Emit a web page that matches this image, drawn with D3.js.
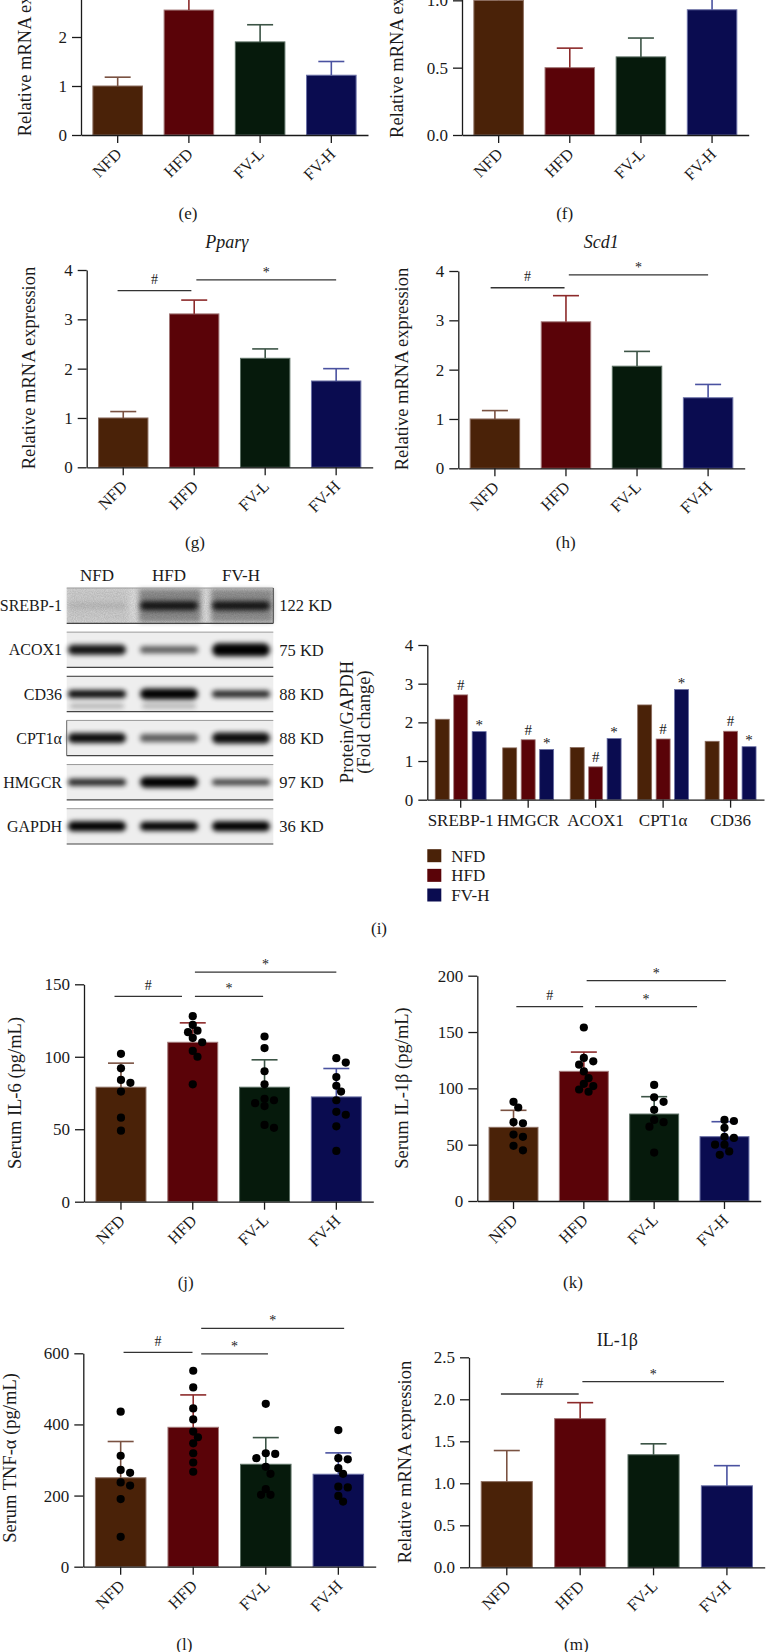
<!DOCTYPE html>
<html><head><meta charset="utf-8">
<script src="https://cdn.jsdelivr.net/npm/d3@7"></script>
<style>
body{margin:0;background:#fff}
svg{display:block}
text{font-family:"Liberation Serif","Times New Roman",Times,serif;fill:#1a1a1a}
</style>
</head><body>
<svg id="c" width="766" height="1652"></svg>
<script>
// ---------- shared categories / palette ----------
const groups = ["NFD", "HFD", "FV-L", "FV-H"];
const groupColors = ["#4a2208", "#5a0308", "#061a0c", "#0a0c50"];
const strokeColors = ["#8c6e60", "#a27878", "#5c7064", "#6a70a6"];
const errColors = ["#7a5242", "#8c2a2a", "#3c5446", "#4a52a0"];

// ---------- (e) ----------
const eMeans = [1.0, 2.55, 1.9, 1.22];
const eErr = [1.18, 2.95, 2.25, 1.5];
const eTicks = [0, 1, 2, 3, 4];
// ---------- (f) ----------
const fMeans = [1.0, 0.5, 0.58, 0.93];
const fErr = [1.08, 0.645, 0.72, 1.06];
const fTicks = [0, 0.5, 1.0, 1.5];
// ---------- (g) Pparγ ----------
const gMeans = [1.0, 3.11, 2.21, 1.75];
const gErr = [1.13, 3.39, 2.40, 2.0];
const gTicks = [0, 1, 2, 3, 4];
const gSig = [[-0.08, 0.96, 3.58, "#"], [1.03, 3.0, 3.80, "*"]];
// ---------- (h) Scd1 ----------
const hMeans = [1.0, 2.97, 2.07, 1.43];
const hErr = [1.17, 3.50, 2.37, 1.70];
const hTicks = [0, 1, 2, 3, 4];
const hSig = [[-0.06, 0.98, 3.66, "#"], [1.04, 3.0, 3.92, "*"]];
// ---------- (i) western blot ----------
const blotProteins = ["SREBP-1", "ACOX1", "CD36", "CPT1α", "HMGCR", "GAPDH"];
const blotKD = ["122 KD", "75 KD", "88 KD", "88 KD", "97 KD", "36 KD"];
const blotLanes = ["NFD", "HFD", "FV-H"];
const blotIntensity = [[0.1, 0.85, 0.85], [0.92, 0.62, 1.0], [0.95, 1.0, 0.85], [0.95, 0.62, 0.95], [0.85, 1.0, 0.75], [1.0, 1.0, 1.0]];
const blotThickness = [[5, 9, 9], [10, 7, 13], [8, 11, 7], [10, 8, 11], [7, 11, 6], [10, 9, 10]];
const blotLowerBand = [[0, 0, 0], [0, 0, 0], [0.3, 0.3, 0], [0, 0, 0], [0, 0, 0], [0, 0, 0]];
const srebpBackground = [0.06, 0.36, 0.34];
// ---------- (i) quantification ----------
const protCats = ["SREBP-1", "HMGCR", "ACOX1", "CPT1α", "CD36"];
const protSeries = ["NFD", "HFD", "FV-H"];
const protNFD = [2.08, 1.34, 1.35, 2.45, 1.51];
const protHFD = [2.71, 1.55, 0.85, 1.57, 1.77];
const protFVH = [1.76, 1.30, 1.58, 2.85, 1.37];
const protHFDMark = ["#", "#", "#", "#", "#"];
const protFVHMark = ["*", "*", "*", "*", "*"];
const protTicks = [0, 1, 2, 3, 4];
const protColors = ["#4a2208", "#5a0308", "#0a0c50"];
// ---------- (j) Serum IL-6 ----------
const jMeans = [79, 110, 79, 72.3];
const jErr = [95.6, 123.4, 97.9, 91.9];
const jPoints = [
  [102, 92, 84, 82, 76, 58, 49],
  [128, 122, 118, 117, 113, 110, 104, 100, 81],
  [114, 106, 90, 81, 71, 70, 68, 66, 53, 51],
  [99, 96, 86, 80, 76, 70, 62, 60, 52, 35]];
const jTicks = [0, 50, 100, 150];
const jSig = [[-0.09, 0.85, 141.6, "#"], [1.03, 1.98, 141.6, "*"], [1.03, 3.0, 158.4, "*"]];
// ---------- (k) Serum IL-1β ----------
const kMeans = [65.4, 115.1, 77.2, 57.1];
const kErr = [80.5, 132.2, 92.6, 70.4];
const kPoints = [
  [88, 83, 70, 69, 59, 57, 49, 45],
  [154, 127, 124, 121, 115, 109, 104, 102, 99, 97],
  [103, 92, 88, 81, 72, 70, 66, 43],
  [72, 71, 65, 57, 56, 50, 50, 44, 41]];
const kTicks = [0, 50, 100, 150, 200];
const kSig = [[0.04, 0.99, 172.6, "#"], [1.16, 2.61, 172.6, "*"], [1.04, 3.02, 195.6, "*"]];
// ---------- (l) Serum TNF-α ----------
const lMeans = [250, 392, 288, 260];
const lErr = [352, 483, 363, 320];
const lPoints = [
  [436, 312, 272, 264, 237, 228, 190, 84],
  [551, 504, 445, 414, 380, 364, 347, 319, 293, 267],
  [458, 319, 317, 305, 281, 261, 218, 202, 202],
  [384, 305, 302, 277, 261, 225, 223, 199, 183]];
const lTicks = [0, 200, 400, 600];
const lSig = [[0.04, 0.99, 602.8, "#"], [1.11, 2.03, 598.3, "*"], [1.11, 3.08, 670, "*"]];
// ---------- (m) IL-1β mRNA ----------
const mMeans = [1.02, 1.77, 1.34, 0.97];
const mErr = [1.39, 1.96, 1.47, 1.21];
const mTicks = [0, 0.5, 1.0, 1.5, 2.0, 2.5];
const mSig = [[-0.08, 0.98, 2.063, "#"], [1.03, 2.96, 2.21, "*"]];

const svg = d3.select("#c");
const defs = svg.append("defs");
defs.append("filter").attr("id", "blur").attr("x", "-30%").attr("y", "-100%").attr("width", "160%").attr("height", "300%")
  .append("feGaussianBlur").attr("stdDeviation", 2.4);
defs.append("filter").attr("id", "blur2").attr("x", "-20%").attr("y", "-20%").attr("width", "140%").attr("height", "140%")
  .append("feGaussianBlur").attr("stdDeviation", 2.5);
const noise = defs.append("filter").attr("id", "noise").attr("x", 0).attr("y", 0).attr("width", "100%").attr("height", "100%");
noise.append("feTurbulence").attr("type", "fractalNoise").attr("baseFrequency", 0.9).attr("numOctaves", 2).attr("seed", 3);
noise.append("feColorMatrix").attr("type", "matrix").attr("values", "0 0 0 0 0  0 0 0 0 0  0 0 0 0 0  0 0 0 0.35 0");
noise.append("feComposite").attr("in2", "SourceGraphic").attr("operator", "in");

const FONT = "Liberation Serif";
const TICK = 17, XTICK = 16.5, YLAB = 18.5;

function txt(g, x, y, s, o = {}) {
  return g.append("text").attr("x", x).attr("y", y).attr("dy", o.dy ?? "0.35em")
    .attr("text-anchor", o.anchor || "middle").attr("font-size", o.size || 16)
    .attr("font-style", o.italic ? "italic" : null).text(s);
}
function vlabel(g, x, y, s, size = YLAB) {
  g.append("text").attr("transform", `translate(${x},${y}) rotate(-90)`).attr("dy", "0.35em")
    .attr("text-anchor", "middle").attr("font-size", size).text(s);
}

function swarm(vals, cx, y, r) {
  const placed = [];
  const order = vals.map(v => ({ v, py: y(v) })).sort((a, b) => a.py - b.py);
  const offs = [0];
  for (let j = 1; j < 8; j++) offs.push(j * r * 1.15, -j * r * 1.15);
  order.forEach(p => {
    let xx = cx;
    for (const o of offs) {
      xx = cx + o;
      if (placed.every(q => Math.hypot(q.x - xx, q.py - p.py) >= r * 1.75)) break;
    }
    p.x = xx; placed.push(p);
  });
  return placed;
}

function barPanel(o) {
  const g = svg.append("g");
  const x = d3.scaleBand().domain(groups).range([o.ax, o.ae]).paddingInner(0.29).paddingOuter(0.16);
  const y = d3.scaleLinear().domain(o.domain).range([o.base, o.top]);
  const bw = x.bandwidth();
  const cx = i => x(groups[i]) + bw / 2;

  g.selectAll("rect.bar").data(o.means).join("rect").attr("class", "bar")
    .attr("x", (d, i) => x(groups[i]) + 0.5).attr("y", d => y(d))
    .attr("width", bw - 1).attr("height", d => y(0) - y(d))
    .attr("fill", (d, i) => groupColors[i]).attr("stroke", (d, i) => strokeColors[i]).attr("stroke-width", 1);

  const eg = g.append("g");
  o.err.forEach((e, i) => {
    eg.append("line").attr("x1", cx(i)).attr("x2", cx(i)).attr("y1", y(o.means[i])).attr("y2", y(e))
      .attr("stroke", errColors[i]).attr("stroke-width", 1.6);
    eg.append("line").attr("x1", cx(i) - 13).attr("x2", cx(i) + 13).attr("y1", y(e)).attr("y2", y(e))
      .attr("stroke", errColors[i]).attr("stroke-width", 1.6);
  });

  if (o.points) {
    o.points.forEach((vals, i) => {
      const pts = swarm(vals, cx(i), y, 4.1);
      g.append("g").selectAll("circle").data(pts).join("circle")
        .attr("cx", d => d.x).attr("cy", d => d.py).attr("r", 4.1).attr("fill", "#000");
    });
  }

  const ya = d3.axisLeft(y).tickValues(o.ticks).tickSize(9).tickSizeOuter(0).tickPadding(5)
    .tickFormat(o.fmt || (d => d));
  const yg = g.append("g").attr("transform", `translate(${o.ax},0)`).call(ya)
    .attr("font-family", FONT).attr("font-size", TICK).attr("color", "#1a1a1a");
  yg.selectAll("line,path").attr("stroke-width", 1.3);

  const xa = d3.axisBottom(x).tickSize(8).tickSizeOuter(0);
  const xg = g.append("g").attr("transform", `translate(0,${o.base})`).call(xa)
    .attr("font-family", FONT).attr("font-size", XTICK).attr("color", "#1a1a1a");
  xg.selectAll("line,path").attr("stroke-width", 1.3);
  xg.selectAll(".tick text").attr("y", 0).attr("dy", 0)
    .attr("transform", "translate(5,20) rotate(-45)").attr("text-anchor", "end");

  if (o.sig) {
    const xc = d3.scaleLinear().domain([0, 3]).range([cx(0), cx(3)]);
    o.sig.forEach(s => {
      const x1 = xc(s[0]), x2 = xc(s[1]), yy = y(s[2]);
      g.append("line").attr("x1", x1).attr("x2", x2).attr("y1", yy).attr("y2", yy)
        .attr("stroke", "#333").attr("stroke-width", 1.3);
      g.append("text").attr("x", (x1 + x2) / 2).attr("y", yy - (s[3] === "#" ? 6.5 : 3))
        .attr("text-anchor", "middle").attr("font-size", 14).text(s[3]);
    });
  }
  if (o.ylabel) vlabel(g, o.ylx, o.yly, o.ylabel);
  if (o.title) txt(g, o.tx, o.ty, o.title, { size: 18, italic: o.italic });
  return g;
}

const fmt1 = d => d.toFixed(1);

barPanel({ ax: 81, ae: 368, base: 135, top: -61, domain: [0, 4], ticks: eTicks, means: eMeans, err: eErr,
  ylabel: "Relative mRNA expression", ylx: 25, yly: 35 });
barPanel({ ax: 462, ae: 748.7, base: 135, top: -67, domain: [0, 1.5], ticks: fTicks, fmt: fmt1, means: fMeans, err: fErr,
  ylabel: "Relative mRNA expression", ylx: 396.3, yly: 36.7 });
barPanel({ ax: 86.7, ae: 372.7, base: 467.3, top: 270, domain: [0, 4], ticks: gTicks, means: gMeans, err: gErr, sig: gSig,
  ylabel: "Relative mRNA expression", ylx: 28.3, yly: 368, title: "Pparγ", italic: true, tx: 226.7, ty: 241.7 });
barPanel({ ax: 458.3, ae: 744.7, base: 468.3, top: 271, domain: [0, 4], ticks: hTicks, means: hMeans, err: hErr, sig: hSig,
  ylabel: "Relative mRNA expression", ylx: 401.3, yly: 369, title: "Scd1", italic: true, tx: 601.3, ty: 241.7 });
barPanel({ ax: 84, ae: 373.3, base: 1201.7, top: 984.3, domain: [0, 150], ticks: jTicks, means: jMeans, err: jErr,
  points: jPoints, sig: jSig, ylabel: "Serum IL-6 (pg/mL)", ylx: 14.7, yly: 1093 });
barPanel({ ax: 477.3, ae: 760.7, base: 1201, top: 975.7, domain: [0, 200], ticks: kTicks, means: kMeans, err: kErr,
  points: kPoints, sig: kSig, ylabel: "Serum IL-1β (pg/mL)", ylx: 401.3, yly: 1088 });
barPanel({ ax: 83.3, ae: 375.7, base: 1566.7, top: 1353.3, domain: [0, 600], ticks: lTicks, means: lMeans, err: lErr,
  points: lPoints, sig: lSig, ylabel: "Serum TNF-α (pg/mL)", ylx: 9.5, yly: 1458 });
barPanel({ ax: 469, ae: 764.7, base: 1567.3, top: 1357.3, domain: [0, 2.5], ticks: mTicks, fmt: fmt1, means: mMeans, err: mErr,
  sig: mSig, ylabel: "Relative mRNA expression", ylx: 404.3, yly: 1462, title: "IL-1β", tx: 617.3, ty: 1339.3 });

// ---------- Western blot ----------
(function () {
  const g = svg.append("g");
  const lane = d3.scaleBand().domain(blotLanes).range([61, 277]);
  const row = d3.scaleBand().domain(blotProteins).range([588, 844]).paddingInner(0.2);
  const rh = row.bandwidth();
  const bx0 = 66.7, bx1 = 273.3;
  blotLanes.forEach(l => txt(g, lane(l) + lane.bandwidth() / 2, 575, l, { size: 17 }));
  blotProteins.forEach((p, ri) => {
    const top = row(p), cy = top + rh / 2;
    g.append("rect").attr("x", bx0).attr("y", top).attr("width", bx1 - bx0).attr("height", rh)
      .attr("fill", ri === 0 ? "#e4e4e4" : "#eeeeee");
    if (ri === 0) {
      blotLanes.forEach((l, li) => {
        g.append("rect").attr("x", lane(l) + 6).attr("y", top + 1).attr("width", lane.bandwidth() - 10).attr("height", rh - 2)
          .attr("fill", "#000").attr("opacity", srebpBackground[li]).attr("filter", "url(#blur2)");
      });
      g.append("rect").attr("x", bx0).attr("y", top).attr("width", bx1 - bx0).attr("height", rh)
        .attr("fill", "#000").attr("filter", "url(#noise)").attr("opacity", 0.5);
    }
    blotLanes.forEach((l, li) => {
      const c = lane(l) + lane.bandwidth() / 2;
      const th = blotThickness[ri][li];
      g.append("rect").attr("x", c - 29).attr("y", cy - th / 2).attr("width", 58).attr("height", th)
        .attr("rx", th / 2).attr("fill", "#050505").attr("opacity", blotIntensity[ri][li]).attr("filter", "url(#blur)");
      if (blotLowerBand[ri][li] > 0) {
        g.append("rect").attr("x", c - 27).attr("y", cy + 10).attr("width", 54).attr("height", 4)
          .attr("rx", 2).attr("fill", "#000").attr("opacity", blotLowerBand[ri][li]).attr("filter", "url(#blur)");
      }
    });
    g.append("line").attr("x1", bx0).attr("x2", bx1).attr("y1", top).attr("y2", top)
      .attr("stroke", ri === 2 ? "#333" : "#999").attr("stroke-width", 1);
    g.append("line").attr("x1", bx0).attr("x2", bx1).attr("y1", top + rh).attr("y2", top + rh)
      .attr("stroke", "#444").attr("stroke-width", 1.2);
    txt(g, 62, cy, p, { anchor: "end", size: 16 });
    txt(g, 279.3, cy, blotKD[ri], { anchor: "start", size: 16.5 });
  });
  g.append("line").attr("x1", bx1).attr("x2", bx1).attr("y1", row(blotProteins[0])).attr("y2", row(blotProteins[0]) + rh)
    .attr("stroke", "#444");
  g.append("line").attr("x1", bx0).attr("x2", bx0).attr("y1", row(blotProteins[3])).attr("y2", row(blotProteins[3]) + rh)
    .attr("stroke", "#666");
})();

// ---------- Protein quantification ----------
(function () {
  const g = svg.append("g");
  const xg = d3.scaleBand().domain(protCats).range([427.3, 764]).paddingInner(0.18).paddingOuter(0.085);
  const xs = d3.scaleBand().domain(protSeries).range([0, xg.bandwidth()]).paddingInner(0.243).paddingOuter(0.12);
  const y = d3.scaleLinear().domain([0, 4]).range([799.7, 645]);
  const series = [protNFD, protHFD, protFVH];
  series.forEach((vals, si) => {
    g.append("g").selectAll("rect").data(vals).join("rect")
      .attr("x", (d, i) => xg(protCats[i]) + xs(protSeries[si]))
      .attr("y", d => y(d)).attr("width", xs.bandwidth()).attr("height", d => y(0) - y(d))
      .attr("fill", protColors[si]).attr("stroke", strokeColors[si === 2 ? 3 : si]).attr("stroke-width", 0.8);
  });
  [[protHFD, protHFDMark, 1, 5], [protFVH, protFVHMark, 2, 1.5]].forEach(([vals, marks, si, off]) => {
    g.append("g").selectAll("text").data(vals).join("text")
      .attr("x", (d, i) => xg(protCats[i]) + xs(protSeries[si]) + xs.bandwidth() / 2)
      .attr("y", d => y(d) - off).attr("text-anchor", "middle").attr("font-size", 15)
      .text((d, i) => marks[i]);
  });
  const ya = d3.axisLeft(y).tickValues(protTicks).tickSize(9).tickSizeOuter(0).tickPadding(5).tickFormat(d => d);
  const yg = g.append("g").attr("transform", "translate(427.3,0)").call(ya)
    .attr("font-family", FONT).attr("font-size", TICK).attr("color", "#1a1a1a");
  yg.selectAll("line,path").attr("stroke-width", 1.3);
  const xa = d3.axisBottom(xg).tickSize(8).tickSizeOuter(0).tickPadding(6);
  const xag = g.append("g").attr("transform", "translate(0,799.7)").call(xa)
    .attr("font-family", FONT).attr("font-size", 17).attr("color", "#1a1a1a");
  xag.selectAll("line,path").attr("stroke-width", 1.3);

  g.append("text").attr("transform", "translate(346.7,722) rotate(-90)").attr("dy", "0.35em")
    .attr("text-anchor", "middle").attr("font-size", YLAB).text("Protein/GAPDH");
  g.append("text").attr("transform", "translate(364,722) rotate(-90)").attr("dy", "0.35em")
    .attr("text-anchor", "middle").attr("font-size", YLAB).text("(Fold change)");

  const leg = g.append("g");
  const ly = d3.scalePoint().domain(protSeries).range([855.7, 895]);
  protSeries.forEach((s, i) => {
    leg.append("rect").attr("x", 427.3).attr("y", ly(s) - 6.5).attr("width", 14).attr("height", 13).attr("fill", protColors[i]);
    txt(leg, 451.3, ly(s), s, { anchor: "start", size: 17 });
  });
})();

// ---------- panel letters ----------
const letters = [["(e)", 188, 212.7], ["(f)", 564.7, 212.7], ["(g)", 195, 541.7], ["(h)", 565.7, 541.7],
  ["(i)", 379, 928], ["(j)", 185.7, 1281.7], ["(k)", 573, 1281.7], ["(l)", 184.3, 1644.3], ["(m)", 576.3, 1644.3]];
letters.forEach(l => txt(svg, l[1], l[2], l[0], { size: 17 }));
</script>
</body></html>
